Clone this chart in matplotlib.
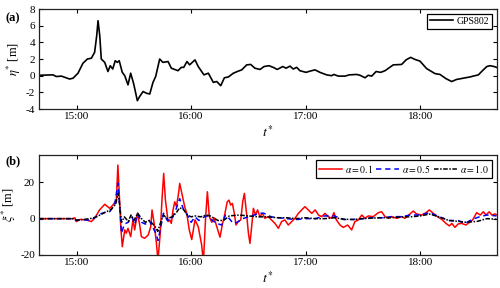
import numpy as np
import matplotlib
matplotlib.use("Agg")
import matplotlib.pyplot as plt
from matplotlib.ticker import FuncFormatter

plt.rcParams['font.family'] = ['Liberation Serif', 'DejaVu Serif']
plt.rcParams['mathtext.fontset'] = 'stix'
plt.rcParams['font.size'] = 8
plt.rcParams['axes.unicode_minus'] = False

# times are minutes after 14:00
t_eta = [40, 47.6, 49.3, 52, 56.3, 58.1, 60.7, 63.3, 65.6, 67.7, 69.4, 70.5, 71.2, 72.1, 72.9, 74.7,
         76.4, 77.6, 78.9, 80.2, 81.3, 82.3, 83.9, 85.2, 86.9, 88.3, 89.9, 91.8, 93.0, 94.8, 96.5, 98.3,
         100, 101.4, 103.5, 105.2, 107.9, 109.6, 113.1, 114.8, 116.1, 117.8, 119.2, 122, 123.7, 126.7,
         129, 131.6, 133.4, 135.5, 137.4, 139.5, 142.1, 144.7, 146.5, 149.1, 151.2, 153.4, 156.1, 158.2,
         160.8, 163, 165.1, 168, 169.7, 171.8, 173.5, 175.3, 177, 180.2, 182.3, 184.9, 187.5, 191, 193.6,
         194.8, 197.1, 200.6, 202.9, 206.7, 208.5, 211.1, 212.8, 214.6, 216.9, 219.3, 221.6, 225.9, 230.3,
         232.6, 235, 237.3, 239.9, 243.4, 247.8, 250.4, 253.5, 256.5, 259.1, 262.6, 266.1, 267.8, 270.5,
         272.2, 274.9, 276.6, 278.8, 280]
eta = [0.05, 0.1, -0.1, -0.05, -0.4, -0.3, 0.3, 1.5, 2.0, 2.1, 2.8, 4.8, 6.6, 4.8, 2.0, 1.6,
       0.5, 1.2, 0.8, 1.8, 1.6, 1.8, 0.4, 0.0, -1.1, 0.3, -1.0, -3.0, -2.5, -1.9, -2.1, -2.2,
       -0.8, -0.1, 2.0, 1.6, 1.7, 0.9, 0.6, 1.0, 1.0, 1.7, 1.3, 1.9, 1.1, 0.1,
       0.3, -0.8, -0.7, -1.2, -0.25, -0.15, 0.3, 0.55, 0.7, 1.3, 1.35, 0.9, 0.75, 1.1,
       1.2, 1.0, 0.75, 1.1, 0.9, 1.15, 0.8, 1.0, 0.6, 0.4, 0.55, 0.7, 0.4, 0.1, 0.0,
       0.15, -0.05, -0.05, 0.1, 0.15, 0.05, -0.25, 0.05, -0.05, 0.5, 0.4, 0.6, 1.3, 1.35,
       1.9, 2.2, 1.95, 1.75, 0.85, 0.25, 0.15, -0.35, -0.7, -0.45, -0.3, -0.15, -0.05, 0.1,
       0.5, 1.1, 1.2, 1.1, 1.0]

t_r = [40, 58, 59, 59.8, 62, 65, 67.7, 69.4, 72, 74.7,
       77.3, 79, 80.8, 81.6, 82.4, 83.1, 83.9, 85.2, 86, 86.9,
       88.3, 89.5, 90.4, 91.8, 92.9, 93.9, 95.6, 97.5, 98.8, 99.5,
       100.6, 101.7, 102.6, 103.8, 104.7, 105.6, 106.5, 107.9, 108.8, 109.6,
       110.5, 111.4, 112.3, 113.5, 114, 115.1, 116.6, 117.7, 119, 120.3,
       122, 123.7, 125.5, 126.4, 127.6, 128.5, 129.5, 130.8, 132, 133.4,
       135.1, 136.3, 137.7, 138.9, 139.8, 140.7, 141.6, 142.6, 143.5, 144.7,
       146, 147, 147.9, 149.1, 150, 150.8, 151.7, 152.6, 153.7, 154.8,
       156, 157.3, 158.6, 160.4, 162.1, 163.9, 165.7, 167.4, 169.1, 170.9,
       172.7, 174.4, 176.2, 177.9, 179.6, 181.4, 183.2, 185, 186.7, 188.4,
       190.1, 191.9, 193.6, 194.8, 196.1, 198, 199.7, 202, 204.1, 205.8,
       207.6, 209.4, 211.1, 212.8, 215.4, 218.1, 219.8, 221.6, 223.3, 225.1,
       227.7, 230.3, 232, 234.7, 236.4, 238.1, 240.8, 243.1, 244.8, 246.9,
       249, 251.3, 253.5, 255.3, 256.6, 258.2, 259.9, 261.7, 264, 265.6,
       267.5, 269.6, 271.5, 273.1, 274.5, 276.2, 277.5, 279.2, 280]
xi_01 = [0, 0, 0.5, -1.6, -0.4, -0.7, -1.6, 0.2, 4.8, 7.9,
         5.7, 7.5, 10.3, 29.5, 12.1, -4.4, -15.4, -6.2, -8, -5.3,
         -9.9, -0.7, -6.2, 2.9, -2.6, -9.9, -10.8, -9.0, -4.4, 4.8,
         -2.6, -12.6, -23, -8, 10.3, 24.9, 10.3, -1.6, -0.7, -2.6,
         4.8, 9.3, 6.6, 14.8, 19.4, 13.9, 6.6, 2.9, -6.2, -11.5,
         -0.7, -4.4, -14.5, -24, 1.1, 14.8, 1.1, -2, 0.5, -4.4,
         -10.2, -3.5, 2.9, 9.3, 10.2, 7.5, 8.4, 2.9, -3.5, -1.6,
         -0.7, 9.3, 13.9, 2, -8, -13.6, -4.4, 5.7, 2, 4.8,
         1.1, 2.9, 0.2, 1.1, -0.7, -2.6, -5.3, -1.6, -0.7, -3.5,
         -1.6, 0.2, 2.9, 4.8, 6.6, 4.8, 2.9, 4.8, 2, 1.1,
         2.9, 1.1, 0.2, 3.3, -0.7, -3.5, -4.8, -3.5, -6.2, -1.6,
         -0.7, 2, 0.2, 1.5, 1.1, 3.3, 3.8, 1.1, 0.2, 1.1,
         0.2, 1.1, 0.2, 2.6, 4.2, 2.6, 2, 3.3, 4.8, 2.9,
         1.1, -0.4, -2.6, -4, -2.6, -4.8, -2.9, -2.6, -3.5, -2.2,
         -0.7, 3.3, 2, 3.8, 2, 3.8, 2, 2.6, 2.2]

t_b = [40, 58, 60, 62, 66, 68, 72, 75, 77.3, 80,
       81.6, 82.5, 83.5, 85, 87, 89, 90.4, 92, 94, 96,
       98, 100, 101.5, 102.6, 104, 105.5, 107.5, 110, 112, 114,
       116, 118, 120, 122, 124, 126, 128, 130, 133, 136,
       138, 140, 142, 144, 147, 150, 153, 156, 158, 162,
       166, 170, 175, 180, 185, 190, 195, 200, 205, 210,
       215, 220, 225, 230, 235, 240, 245, 250, 255, 260,
       263.6, 267, 271, 275, 280]
xi_05 = [0, 0, -1, -0.5, -0.8, -0.5, 2.5, 3.5, 3.8, 8,
         19.5, 8, -8, -3, -2, 1, -3, 2.5, -2, -3,
         -1, -5, -8, -12, -5, 3, -1, 0, 5, 11,
         5, 2, -2, 1, -1, 0.5, 1.5, 0, -2.5, -3.5,
         2, 0, -2.6, -2, 0, 1, 2, 3, 3, 1,
         0.5, 0, -0.5, 0, 0, 1.5, 1.5, -0.5, -0.4, 0,
         0.5, 0.5, 1.1, 1.1, 2, 2, 3.3, 1, -1, -1.1,
         -2.6, -0.5, 1, 2, 1.5]

t_k = [40, 58, 60, 63, 67, 70, 74, 78, 80.5, 81.6,
       82.5, 83.5, 85, 87, 88.5, 90, 92, 94, 96, 98,
       100, 101.5, 102.5, 104, 105.5, 107.5, 110, 112, 114, 116,
       118, 120, 122, 125, 128, 130, 134, 137, 140, 145,
       150, 155, 160, 165, 170, 175, 180, 185, 190, 195,
       200, 205, 210, 215, 220, 225, 230, 235, 240, 245,
       250, 255, 260, 264, 270, 275, 280]
xi_10 = [0, 0, -0.8, -0.5, 0, 0.8, 3, 5, 8, 14,
         8, -2, 1, -1.5, 2, -1, 3, 0, -2, -1,
         -3, -5, -7, -2, 2, 0, 1, 3, 6, 5,
         2, 1, 1.5, 1, 2, 1.5, -1, -1, 1.5, 2,
         1.5, 1, 1, 0.5, 0.5, 0, 0.5, 0, 0, 0.5,
         -0.3, -0.5, 0, 0.3, 0.5, 0.5, 1, 1, 1.5, 2.5,
         1, -1, -1.5, -2, -1.5, 0, -0.3]

hours = [15, 16, 17, 18]


def hrs(t):
    return 14 + np.array(t) / 60.0


def style(ax):
    ax.set_xlim(14 + 40 / 60, 18 + 40 / 60)
    ax.set_xticks(hours)
    ax.xaxis.set_major_formatter(FuncFormatter(lambda v, p: "%d:00" % round(v)))
    ax.tick_params(direction='in', top=True, right=True, length=3, width=0.8,
                   labelsize=8, pad=2.5)
    for s in ax.spines.values():
        s.set_linewidth(0.9)
        s.set_color('#222222')
    ax.set_xlabel(r"$t^{*}$", fontsize=10, labelpad=2)


fig = plt.figure(figsize=(5.0, 2.88), dpi=100)
ax1 = fig.add_axes([0.077, 0.6215, 0.916, 0.347])
ax2 = fig.add_axes([0.077, 0.1146, 0.916, 0.347])

ax1.plot(hrs(t_eta), eta, color='black', lw=1.2, label='GPS802')
style(ax1)
ax1.set_ylim(-4, 8)
ax1.set_yticks([-4, -2, 0, 2, 4, 6, 8])
ax1.set_ylabel(r"$\eta^{*}$ [m]", fontsize=9)
ax1.yaxis.set_label_coords(-0.034, 0.5)
leg1 = ax1.legend(loc='upper right', fancybox=False, edgecolor='black', framealpha=1,
                  fontsize=7, handlelength=2.4, borderpad=0.3, handletextpad=0.3,
                  borderaxespad=0.5)
leg1.get_frame().set_linewidth(0.9)

ax2.plot(hrs(t_r), xi_01, color='red', lw=1.1, label=r"$\alpha = 0.1$")
ax2.plot(hrs(t_b), xi_05, color='blue', lw=1.1, dashes=(3.5, 2.5), label=r"$\alpha = 0.5$")
ax2.plot(hrs(t_k), xi_10, color='black', lw=1.1, dashes=(3, 1, 1, 1), label=r"$\alpha = 1.0$")
style(ax2)
ax2.set_ylim(-20, 35)
ax2.set_yticks([-20, 0, 20])
ax2.set_ylabel(r"$\xi^{*}$ [m]", fontsize=9)
ax2.yaxis.set_label_coords(-0.045, 0.5)
leg2 = ax2.legend(loc='upper right', ncol=3, fancybox=False, edgecolor='black', framealpha=1,
                  fontsize=7, handlelength=2.4, borderpad=0.3, handletextpad=0.3,
                  columnspacing=0.3, borderaxespad=0.5)
leg2.get_frame().set_linewidth(0.9)

fig.text(0.01, 0.925, "(a)", fontsize=9, fontweight='bold')
fig.text(0.01, 0.43, "(b)", fontsize=9, fontweight='bold')

fig.savefig("out.png", dpi=100)
